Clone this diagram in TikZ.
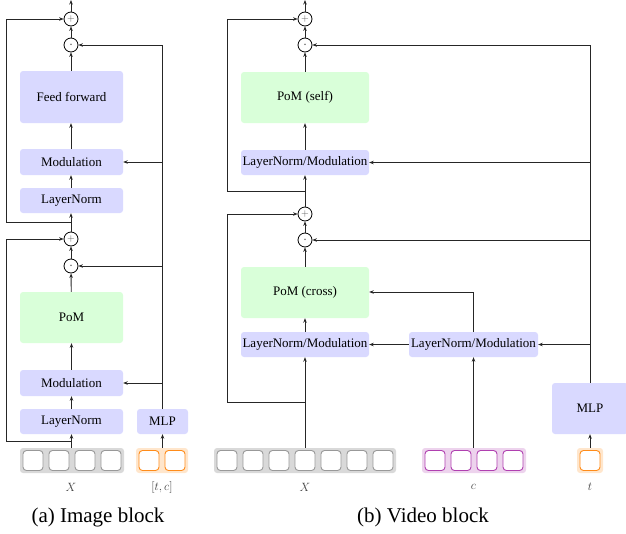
\documentclass[tikz,border=0pt]{standalone}
\usepackage{fontspec}
\setmainfont{Liberation Serif}
\usetikzlibrary{arrows.meta}
\definecolor{boxblue}{HTML}{D9D9FF}
\definecolor{boxgreen}{HTML}{D9FFD9}
\definecolor{tokgray}{HTML}{D9D9D9}
\definecolor{tokgrayd}{HTML}{999999}
\definecolor{tokor}{HTML}{FFE6CC}
\definecolor{tokord}{HTML}{FF8C1A}
\definecolor{tokpu}{HTML}{EDD3ED}
\definecolor{tokpud}{HTML}{B040B0}
\tikzset{
  blk/.style={rounded corners=3pt, inner sep=0pt, font=\fontsize{13}{15}\selectfont},
  bbox/.style={blk, fill=boxblue},
  gbox/.style={blk, fill=boxgreen},
  opc/.style={circle, draw, fill=white, line width=0.8pt, minimum size=14pt, inner sep=0pt, text=black!65, font=\fontsize{10}{10}\selectfont},
  con/.style={line width=0.9pt, draw=black!85},
  arr/.style={con, -{Stealth[length=4.5pt,width=3.5pt]}},
  tokc/.style={rounded corners=3pt, inner sep=0pt, minimum height=25pt},
  tok/.style={rounded corners=3.5pt, fill=white, line width=0.9pt, minimum size=20pt, inner sep=0pt},
  lab/.style={text=black!75, font=\fontsize{13}{15}\selectfont},
  captxt/.style={font=\fontsize{21}{24}\selectfont}
}
\newcommand{\tokrow}[6]{% name, x0, n, fill, border, width
  \node[tokc, fill=#4, minimum width=#6pt] (#1) at ({#2+#6/2},460.5) {};
  \foreach \i in {1,...,#3} {
    \node[tok, draw=#5] (#1-\i) at ({#2+13+(\i-1)*26},460.5) {};
  }
}
\newcommand{\dotsym}{\textbf{\fontsize{14}{14}\selectfont\raisebox{-0.5pt}{$\cdot$}}}
\begin{document}
\begin{tikzpicture}[x=1pt,y=-1pt]
\useasboundingbox (0,0) rectangle (626,533);

% ---------------- Image block ----------------
\node[opc] (plus1) at (71,19) {$+$};
\node[opc] (dot1) at (71,45) {\dotsym};
\node[bbox, minimum width=103pt, minimum height=52pt] (ffn) at (71.5,97) {Feed forward};
\node[bbox, minimum width=103pt, minimum height=26pt] (mod1) at (71.5,162) {Modulation};
\node[bbox, minimum width=103pt, minimum height=25pt] (ln1) at (71.5,200.5) {LayerNorm};
\node[opc] (plus2) at (71,239) {$+$};
\node[opc] (dot2) at (71,266) {\dotsym};
\node[gbox, minimum width=103pt, minimum height=51pt] (pom) at (71.5,317.5) {PoM};
\node[bbox, minimum width=103pt, minimum height=26pt] (mod2) at (71.5,383) {Modulation};
\node[bbox, minimum width=103pt, minimum height=25pt] (ln2) at (71.5,421.5) {LayerNorm};
\node[bbox, minimum width=51pt, minimum height=25pt] (mlp1) at (162.5,421.5) {MLP};
\tokrow{xa}{20}{4}{tokgray}{tokgrayd}{104}
\tokrow{tc}{136}{2}{tokor}{tokord}{52}
\node[lab] (labxa) at (71,487) {$X$};
\node[lab] (labtc) at (162,487) {$[t,c]$};
\node[captxt] (capa) at (98,517) {(a) Image block};

\coordinate (top1) at (71,0);
\coordinate (r1) at (71,441);
\coordinate (r2) at (71,222);
\coordinate (m1) at (162,45);

\draw[arr] (xa.north -| ln2) -- (ln2.south);
\draw[arr] (r1) -- (6,441) -- (6,239) -- (plus2.west);
\draw[arr] (ln2) -- (mod2);
\draw[arr] (mod2) -- (pom);
\draw[arr] (pom) -- (dot2);
\draw[arr] (dot2) -- (plus2);
\draw[arr] (plus2) -- (ln1.south -| plus2);
\draw[arr] (r2) -- (6,222) -- (6,19) -- (plus1.west);
\draw[arr] (ln1.north -| plus1) -- (mod1.south -| plus1);
\draw[arr] (mod1.north -| plus1) -- (ffn.south -| plus1);
\draw[arr] (ffn.north -| plus1) -- (dot1);
\draw[arr] (dot1) -- (plus1);
\draw[arr] (plus1) -- (top1);
\draw[arr] (tc.north -| mlp1) -- (mlp1.south);
\draw[arr] (mlp1.north -| m1) -- (m1) -- (dot1.east);
\draw[arr] (162,162) -- (mod1.east);
\draw[arr] (162,266) -- (dot2.east);
\draw[arr] (162,383) -- (mod2.east);

% ---------------- Video block ----------------
\node[opc] (plusA) at (305,19) {$+$};
\node[opc] (dotA) at (305,45) {\dotsym};
\node[gbox, minimum width=128pt, minimum height=51pt] (pomself) at (305,97.5) {PoM (self)};
\node[bbox, minimum width=128pt, minimum height=25pt] (lnmA) at (305,162.5) {LayerNorm/Modulation};
\node[opc] (plusB) at (305,214) {$+$};
\node[opc] (dotB) at (305,240) {\dotsym};
\node[gbox, minimum width=128pt, minimum height=51pt] (pomcross) at (305,292.5) {PoM (cross)};
\node[bbox, minimum width=128pt, minimum height=25pt] (lnmB) at (305,344.5) {LayerNorm/Modulation};
\node[bbox, minimum width=129pt, minimum height=25pt] (lnmC) at (473.5,344.5) {LayerNorm/Modulation};
\node[bbox, minimum width=76pt, minimum height=51pt] (mlp2) at (590,408.5) {MLP};
\tokrow{xv}{214}{7}{tokgray}{tokgrayd}{182}
\tokrow{cv}{422}{4}{tokpu}{tokpud}{104}
\tokrow{tv}{577}{1}{tokor}{tokord}{26}
\node[lab] (labxv) at (305,487) {$X$};
\node[lab] (labc) at (473.5,487) {$c$};
\node[lab] (labt) at (590,487) {$t$};
\node[captxt] (capb) at (423,517) {(b) Video block};

\coordinate (top2) at (305,0);
\coordinate (rA) at (305,402);
\coordinate (rB) at (305,191);
\coordinate (m2) at (590,45);
\coordinate (cj) at (473.5,292);

\draw[arr] (xv.north -| lnmB) -- (lnmB.south);
\draw[arr] (rA) -- (227,402) -- (227,214) -- (plusB.west);
\draw[arr] (lnmB) -- (pomcross);
\draw[arr] (pomcross) -- (dotB);
\draw[arr] (dotB) -- (plusB);
\draw[arr] (plusB) -- (lnmA);
\draw[arr] (rB) -- (227,191) -- (227,19) -- (plusA.west);
\draw[arr] (lnmA) -- (pomself);
\draw[arr] (pomself) -- (dotA);
\draw[arr] (dotA) -- (plusA);
\draw[arr] (plusA) -- (top2);
\draw[arr] (cv.north -| lnmC) -- (lnmC.south);
\draw[arr] (lnmC.west) -- (lnmB.east);
\draw[arr] (lnmC.north) -- (cj) -- (pomcross.east |- cj);
\draw[arr] (tv.north) -- (mlp2.south);
\draw[arr] (mlp2.north) -- (m2) -- (dotA.east);
\draw[arr] (590,162.5) -- (lnmA.east);
\draw[arr] (590,240) -- (dotB.east);
\draw[arr] (590,344.5) -- (lnmC.east);
\end{tikzpicture}
\end{document}
